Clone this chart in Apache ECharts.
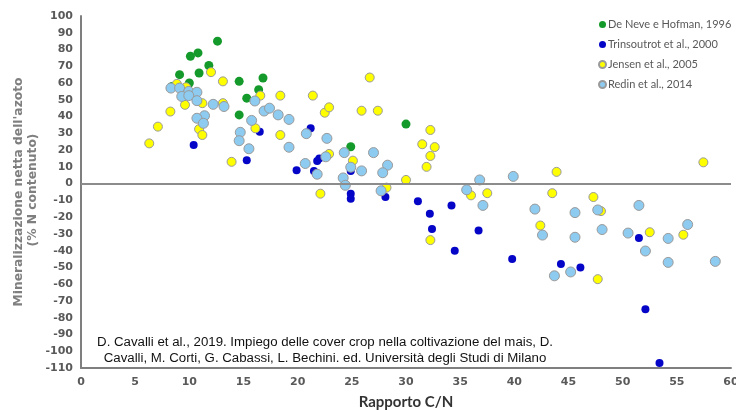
<!DOCTYPE html>
<html>
<head>
<meta charset="utf-8">
<script src="https://cdn.jsdelivr.net/npm/echarts@6/dist/echarts.min.js"></script>
<style>html,body{margin:0;padding:0;background:#fff}#c{width:736px;height:410px}</style>
</head>
<body>
<div id="c"></div>
<script>
var seriesNames = ["De Neve e Hofman, 1996", "Trinsoutrot et al., 2000", "Jensen et al., 2005", "Redin et al., 2014"];

var deNeve = [[8.4,58],[9.1,65],[9.6,56],[10.0,60],[10.1,76],[10.8,78],[10.9,66],[11.8,70.5],[12.6,85],[14.6,61],[14.6,41],[15.3,51],[16.4,56],[16.8,63],[30.0,35.5],[24.9,22]];

var trinsoutrot = [[9.6,47],[10.4,23],[15.3,14],[16.5,31],[19.9,8],[21.2,33],[21.5,7.5],[21.8,13.5],[22.0,15],[24.9,7.5],[24.9,-6],[24.9,-9],[28.1,-8],[31.1,-10.5],[32.2,-18],[32.4,-27],[34.2,-13],[34.5,-40],[36.7,-28],[39.8,-45],[44.3,-48],[46.1,-50],[51.5,-32.5],[52.1,-75],[53.4,-107]];

var jensen = [[6.3,24],[7.1,34],[8.25,43],[8.85,59.5],[9.7,57.5],[9.6,47],[10.9,32.5],[11.2,29],[11.2,48],[12.0,66.5],[13.1,61],[13.1,48],[13.9,13],[16.1,33],[16.55,52.5],[18.4,52.5],[18.4,29],[21.4,52.5],[22.5,42.3],[22.9,45.5],[22.9,17.7],[22.1,-6],[25.1,13.7],[25.9,43.5],[26.65,63.3],[27.4,43.5],[28.2,-2.4],[30.0,2.2],[31.5,23.5],[31.9,10],[32.25,32],[32.25,16.5],[32.65,21.8],[32.25,-33.7],[36.0,-7],[37.5,-5.7],[42.4,-25],[43.5,-5.7],[43.9,7],[47.3,-8],[48.0,-16.4],[47.7,-57],[52.5,-29],[55.6,-30.5],[57.45,12.7]];

var redin = [[8.3,57],[9.1,57],[9.95,55],[10.7,54.5],[9.3,52],[9.95,52.5],[10.7,49.5],[12.2,47.3],[13.2,46],[11.4,40.5],[10.7,39],[11.3,36],[14.7,30.6],[14.6,25.6],[15.5,20.8],[15.75,37.7],[16.9,43.3],[17.4,45],[16.05,49.3],[18.2,41],[19.2,38.3],[19.2,21.7],[20.8,29.8],[22.7,27],[20.7,12],[21.8,5.6],[22.6,16],[24.3,18.5],[27.0,18.5],[24.9,9.8],[25.9,7.6],[28.3,11],[27.85,6.5],[24.2,3.4],[24.4,-1],[27.7,-4.3],[35.6,-3.7],[36.8,2.2],[39.9,4.3],[37.1,-13],[41.9,-15.2],[42.6,-30.7],[43.7,-55],[45.6,-17.3],[47.7,-15.7],[45.6,-32],[48.1,-27.4],[45.2,-52.7],[51.5,-13],[50.5,-29.5],[52.1,-40.2],[54.2,-32.7],[56.0,-24.4],[54.2,-47],[58.55,-46.4]];

var xAxisTitle = "Rapporto C/N";
var yTitleLine1 = "Mineralizzazione netta dell'azoto";
var yTitleLine2 = "(% N contenuto)";
var sourceLines = ["D. Cavalli et al., 2019. Impiego delle cover crop nella coltivazione del mais, D.", "Cavalli, M. Corti, G. Cabassi, L. Bechini. ed. Università degli Studi di Milano"];

var chart = echarts.init(document.getElementById('c'), null, {renderer: 'canvas'});
var labelFont = {color: '#595959', fontFamily: 'DejaVu Sans', fontWeight: 'bold', fontSize: 11};
var yTitleStyle = {fill: '#7f7f7f', font: 'bold 12.3px "DejaVu Sans"', textAlign: 'center', textVerticalAlign: 'middle'};

var option = {
  animation: false,
  backgroundColor: '#fff',
  grid: {left: 81, right: 5, top: 16, bottom: 42, containLabel: false, outerBoundsMode: 'none'},
  legend: {
    orient: 'vertical', left: 593, top: 14, itemGap: 9, itemWidth: 7, itemHeight: 7,
    icon: 'circle',
    textStyle: {color: '#595959', fontFamily: 'Lato', fontSize: 11, padding: [0,0,0,-3]},
    data: seriesNames
  },
  xAxis: {
    type: 'value', min: 0, max: 60, interval: 5,
    axisLine: {onZero: false, lineStyle: {color: '#7f7f7f', width: 2}},
    axisTick: {show: false}, splitLine: {show: false},
    axisLabel: Object.assign({margin: 9}, labelFont),
    name: xAxisTitle, nameLocation: 'middle', nameGap: 27,
    nameTextStyle: {color: '#333', fontFamily: 'Lato', fontWeight: 'bold', fontSize: 15}
  },
  yAxis: {
    type: 'value', min: -110, max: 100, interval: 10,
    axisLine: {show: true, lineStyle: {color: '#7f7f7f', width: 2}},
    axisTick: {show: false}, splitLine: {show: false},
    axisLabel: Object.assign({margin: 8}, labelFont)
  },
  graphic: [
    {type: 'text', x: 19, y: 192, rotation: Math.PI / 2, style: Object.assign({text: yTitleLine1}, yTitleStyle)},
    {type: 'text', x: 33, y: 190, rotation: Math.PI / 2, style: Object.assign({text: yTitleLine2}, yTitleStyle)},
    {type: 'text', x: 325, y: 334, style: {text: sourceLines.join('\n'), textAlign: 'center', fill: '#111', font: '13.25px "Liberation Sans", Arial', lineHeight: 16}}
  ],
  series: [
    {name: seriesNames[0], type: 'scatter', data: deNeve, symbolSize: 9, itemStyle: {color: '#149a2a', opacity: 1},
     markLine: {silent: true, symbol: 'none', label: {show: false}, lineStyle: {color: '#8c8c8c', width: 2, type: 'solid'}, data: [{yAxis: 0}]}},
    {name: seriesNames[1], type: 'scatter', data: trinsoutrot, symbolSize: 8, itemStyle: {color: '#0505c8', opacity: 1}},
    {name: seriesNames[2], type: 'scatter', data: jensen, symbolSize: 9, itemStyle: {color: '#ffff00', borderColor: '#9a9a9a', borderWidth: 1, opacity: 1}},
    {name: seriesNames[3], type: 'scatter', data: redin, symbolSize: 10, itemStyle: {color: '#8ecbf0', borderColor: '#9a9a9a', borderWidth: 1, opacity: 1}}
  ]
};
chart.setOption(option);
</script>
</body>
</html>
